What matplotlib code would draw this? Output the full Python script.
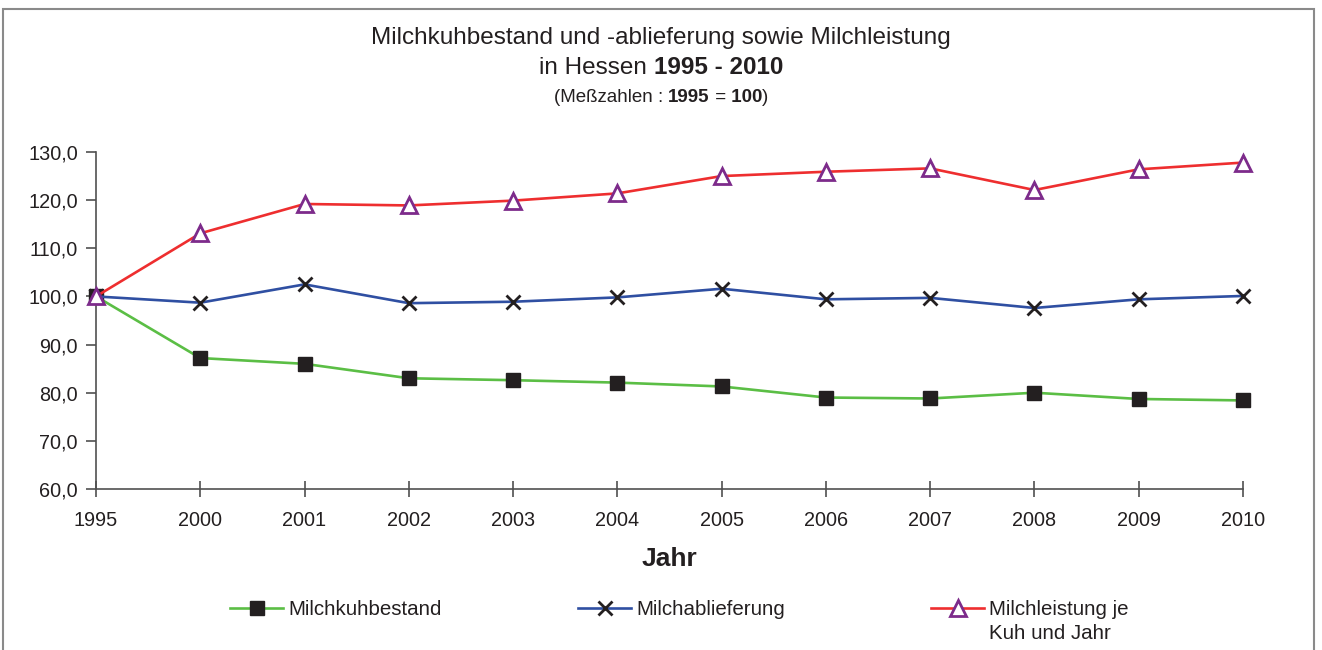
import matplotlib
matplotlib.use("Agg")
import matplotlib.pyplot as plt
from matplotlib.patches import Rectangle
from matplotlib.lines import Line2D

plt.rcParams['font.family'] = ['Liberation Sans', 'DejaVu Sans']

years = ["1995", "2000", "2001", "2002", "2003", "2004", "2005", "2006", "2007", "2008", "2009", "2010"]
milchkuhbestand = [100.0, 87.2, 86.0, 83.0, 82.6, 82.1, 81.3, 79.0, 78.8, 80.0, 78.7, 78.4]
milchablieferung = [100.0, 98.7, 102.5, 98.6, 98.9, 99.8, 101.6, 99.4, 99.7, 97.6, 99.4, 100.1]
milchleistung = [100.0, 113.1, 119.2, 118.9, 119.9, 121.4, 125.0, 125.9, 126.6, 122.1, 126.4, 127.8]
series_labels = ["Milchkuhbestand", "Milchablieferung", "Milchleistung je\nKuh und Jahr"]
yticks = [60, 70, 80, 90, 100, 110, 120, 130]

W, H = 1322, 650
fig = plt.figure(figsize=(W / 100, H / 100), dpi=100)
txt = "#231F20"

# outer frame
fig.patches.append(Rectangle((3 / W, -0.1), (1314 - 3) / W, 1.1 - 9 / H,
                             transform=fig.transFigure, fill=False,
                             edgecolor="#8a8a8a", linewidth=1.5))

ax = fig.add_axes([96 / W, 1 - 489 / H, (1243 - 96) / W, (489 - 152) / H])
x = list(range(len(years)))

green = "#5BBE45"
blue = "#2F4FA2"
red = "#EE2E2F"
purple = "#7D2B8B"

styles = [
    dict(color=green, lw=1.9, marker="s", ms=10.5, mfc="#231F20", mec="#231F20"),
    dict(color=blue, lw=1.9, marker="x", ms=10.5, mew=2, mec="#231F20"),
    dict(color=red, lw=1.9, marker="^", ms=11, mfc="white", mec=purple, mew=2),
]
for vals, st, z in zip([milchkuhbestand, milchablieferung, milchleistung], styles, [3, 3, 4]):
    ax.plot(x, vals, clip_on=False, zorder=z, **st)

ax.set_xlim(0, len(years) - 1)
ax.set_ylim(60, 130)
ax.set_yticks(yticks)
ax.set_yticklabels([f"{v:.1f}".replace(".", ",") for v in yticks], fontsize=14.3, color=txt)
ax.set_xticks(x)
ax.set_xticklabels(years, fontsize=14.3, color=txt)
for s in ["top", "right"]:
    ax.spines[s].set_visible(False)
for s in ["left", "bottom"]:
    ax.spines[s].set_color("#505050")
    ax.spines[s].set_linewidth(1.2)
ax.tick_params(axis="y", direction="out", length=7, width=1.2, color="#505050", pad=6)
ax.tick_params(axis="x", direction="inout", length=12, width=1.2, color="#505050", pad=10)
ax.set_xlabel("Jahr", fontsize=19, fontweight="bold", color=txt, labelpad=12)

renderer = fig.canvas.get_renderer()


def centered_pieces(pieces, y_px, size):
    objs = []
    for s, w in pieces:
        t = fig.text(0, 1 - y_px / H, s, fontsize=size, fontweight=w, color=txt,
                     ha="left", va="center")
        objs.append(t)
    widths = [t.get_window_extent(renderer).width for t in objs]
    total = sum(widths)
    xpos = W / 2 - total / 2
    for t, wd in zip(objs, widths):
        t.set_x(xpos / W)
        xpos += wd


centered_pieces([("Milchkuhbestand und -ablieferung sowie Milchleistung", "normal")], 38, 17.5)
centered_pieces([("in Hessen ", "normal"), ("1995 - 2010", "bold")], 68, 17.5)
centered_pieces([("(Meßzahlen : ", "normal"), ("1995", "bold"), (" =", "normal"),
                 (" 100", "bold"), (")", "normal")], 98, 13.5)

# manual legend
leg_text_x = [288, 636, 989]
leg_y = 608
for st, tx, lab in zip(styles, leg_text_x, series_labels):
    x0, x1 = tx - 58, tx - 5
    fig.add_artist(Line2D([x0 / W, x1 / W], [1 - leg_y / H] * 2, transform=fig.transFigure,
                          color=st["color"], lw=st["lw"]))
    mk = {k: v for k, v in st.items() if k not in ("color", "lw")}
    fig.add_artist(Line2D([(x0 + x1) / 2 / W], [1 - leg_y / H], transform=fig.transFigure,
                          linestyle="none", **mk))
    fig.text(tx / W, 1 - (leg_y - 8) / H, lab, fontsize=14.8, color=txt, ha="left", va="top",
             linespacing=1.35)

fig.savefig("out.png", dpi=100)
